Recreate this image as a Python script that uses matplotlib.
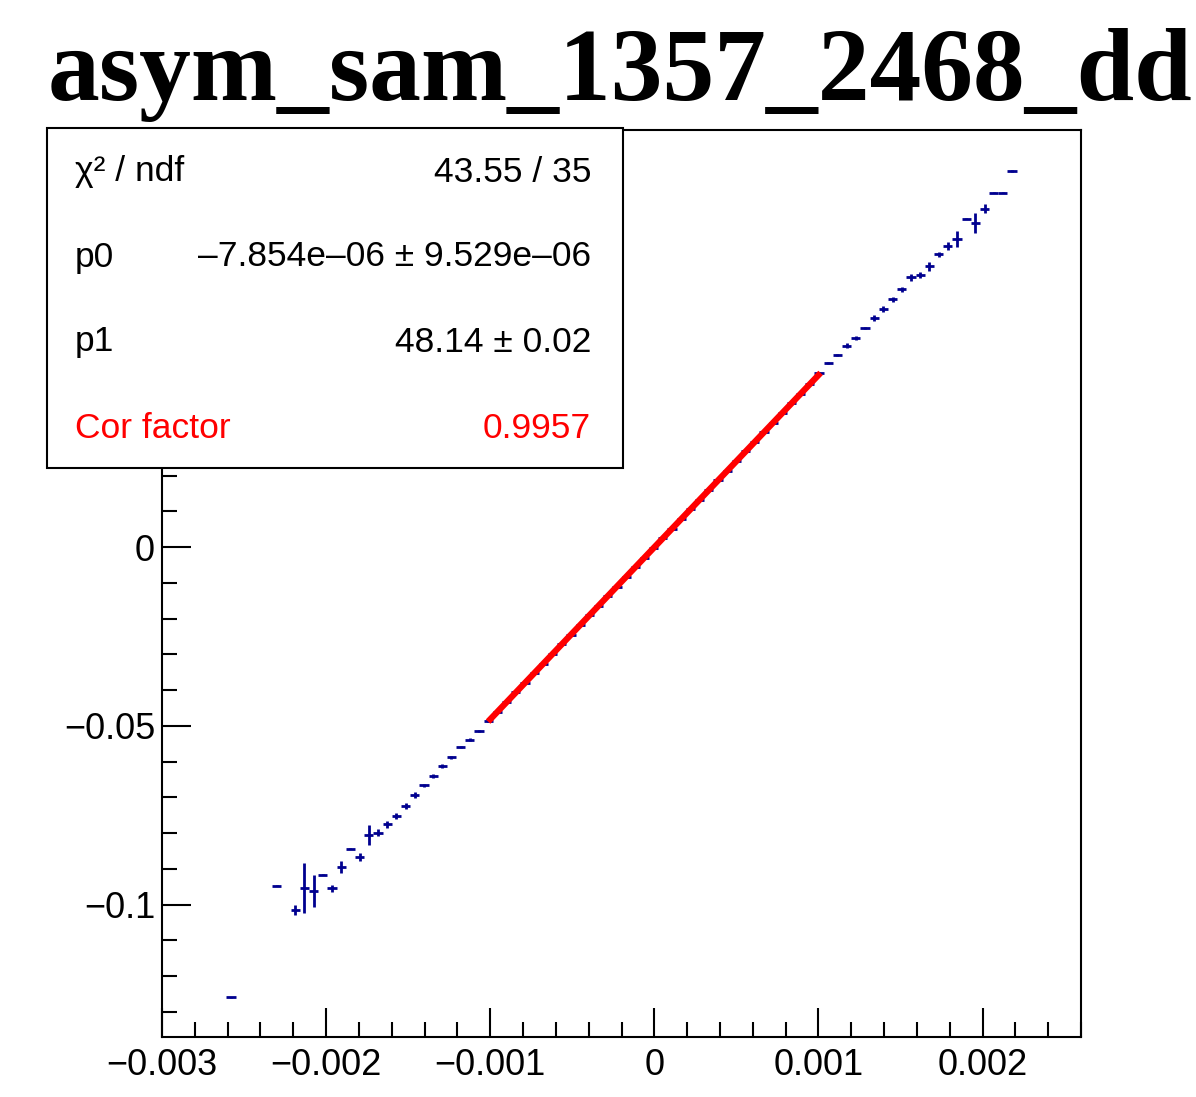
import numpy as np
import matplotlib
matplotlib.use('Agg')
import matplotlib.pyplot as plt
from matplotlib.patches import Rectangle
from matplotlib.ticker import MultipleLocator, FuncFormatter


# profile binning (100 bins over the axis range)
N_BINS = 100
X_LOW, X_HIGH = -0.003, 0.0026

# filled bins, mean values and errors
filled_bins = [7, 12, 14, 15, 16, 17, 18, 19, 20, 21,
               22, 23, 24, 25, 26, 27, 28, 29, 30, 31, 32, 33, 34,
               35, 36, 37, 38, 39, 40, 41, 42, 43, 44, 45, 46, 47, 48, 49, 50,
               51, 52, 53, 54, 55, 56, 57, 58, 59, 60, 61, 62, 63, 64, 65, 66,
               67, 68, 69, 70,
               71, 72, 73, 74, 75, 76, 77, 78, 79, 80, 81, 82, 83, 84, 85, 86,
               87, 88, 89, 90, 91, 92]

y_mean = [-0.1259, -0.0947, -0.1015, -0.0954, -0.0961, -0.0916, -0.0954, -0.0894, -0.0843, -0.0866,
          -0.0805, -0.0799, -0.0775, -0.0752, -0.0724, -0.0694, -0.0666, -0.0640, -0.0612, -0.0588,
          -0.0558, -0.0538, -0.0514,
          -0.0487, -0.0460, -0.0433, -0.0406, -0.0379, -0.0352, -0.0326, -0.0299, -0.0272, -0.0245,
          -0.0218, -0.0191, -0.0164, -0.0137, -0.0110, -0.0083, -0.0056, -0.0029, -0.0002, 0.0025,
          0.0052, 0.0079, 0.0106, 0.0133, 0.0160, 0.0187, 0.0214, 0.0241, 0.0268, 0.0295,
          0.0322, 0.0348, 0.0375, 0.0402, 0.0429, 0.0456,
          0.0486, 0.0515, 0.0537, 0.0564, 0.0586, 0.0612, 0.0642, 0.0666, 0.0693, 0.0721,
          0.0755, 0.0761, 0.0786, 0.0819, 0.0842, 0.0862, 0.0919, 0.0908, 0.0947, 0.0992,
          0.0992, 0.1052]

y_err = [0.0002, 0.0002, 0.0013, 0.0070, 0.0044, 0.0002, 0.0010, 0.0016, 0.0002, 0.0012,
         0.0027, 0.0010, 0.0010, 0.0008, 0.0008, 0.0008, 0.0005, 0.0005, 0.0005, 0.0004,
         0.0003, 0.0004, 0.0004,
         0.0002, 0.0002, 0.0002, 0.0002, 0.0002, 0.0002, 0.0002, 0.0002, 0.0002, 0.0002,
         0.0002, 0.0002, 0.0002, 0.0002, 0.0002, 0.0002, 0.0002, 0.0002, 0.0002, 0.0002,
         0.0002, 0.0002, 0.0002, 0.0002, 0.0002, 0.0002, 0.0002, 0.0002, 0.0002, 0.0002,
         0.0002, 0.0002, 0.0002, 0.0002, 0.0002, 0.0002,
         0.0003, 0.0003, 0.0003, 0.0006, 0.0006, 0.0003, 0.0008, 0.0008, 0.0008, 0.0008,
         0.0010, 0.0008, 0.0012, 0.0008, 0.0012, 0.0022, 0.0002, 0.0028, 0.0012, 0.0002,
         0.0002, 0.0002]

# fit results (pol1 over [-0.001, 0.001])
p0, p0_err = -7.854e-06, 9.529e-06
p1, p1_err = 48.14, 0.02
chi2, ndf = 43.55, 35
cor_factor = 0.9957
fit_range = (-0.001, 0.001)

title = 'asym_sam_1357_2468_dd'

DATA_COLOR = '#00008f'
SANS = 'Liberation Sans'

edges = np.linspace(X_LOW, X_HIGH, N_BINS + 1)
centers = 0.5 * (edges[1:] + edges[:-1])
half_w = 0.5 * (edges[1] - edges[0])
x = centers[filled_bins]

fig = plt.figure(figsize=(11.96, 10.97), dpi=100)
ax = fig.add_axes([162 / 1196, 60 / 1097, 919 / 1196, 907 / 1097])

ax.errorbar(x, y_mean, xerr=half_w, yerr=y_err, fmt='none',
            ecolor=DATA_COLOR, elinewidth=2.0, capsize=0, zorder=2)

xf = np.linspace(fit_range[0], fit_range[1], 200)
ax.plot(xf, p0 + p1 * xf, color='red', lw=4.5, zorder=3)

ax.set_xlim(X_LOW, X_HIGH)
ax.set_ylim(-0.137, 0.1167)

def fmt(v, pos):
    if abs(v) < 1e-12:
        return '0'
    return ('%g' % v).replace('-', '\u2212')

def fmt_y(v, pos):
    # labels above 0 sit behind the stats box
    if v > 0.01:
        return ''
    return fmt(v, pos)

ax.xaxis.set_major_locator(MultipleLocator(0.001))
ax.xaxis.set_minor_locator(MultipleLocator(0.0002))
ax.yaxis.set_major_locator(MultipleLocator(0.05))
ax.yaxis.set_minor_locator(MultipleLocator(0.01))
ax.xaxis.set_major_formatter(FuncFormatter(fmt))
ax.yaxis.set_major_formatter(FuncFormatter(fmt_y))

ax.tick_params(which='both', direction='in', top=False, right=False, width=1.5)
ax.tick_params(which='major', length=21, labelsize=26)
ax.tick_params(axis='y', which='major', pad=5)
ax.tick_params(axis='x', which='major', pad=8)
ax.tick_params(which='minor', length=10.5)
for lab in ax.get_xticklabels() + ax.get_yticklabels():
    lab.set_family(SANS)
for sp in ax.spines.values():
    sp.set_linewidth(1.5)

# title
fig.text(48 / 1196, 1 - 100 / 1097, title, family='Liberation Serif',
         weight='bold', fontsize=74.5, ha='left', va='baseline')

# stats box
box = Rectangle((47 / 1196, 1 - 468 / 1097), 576 / 1196, 340 / 1097,
                transform=fig.transFigure, facecolor='white',
                edgecolor='black', lw=1.5, zorder=10)
fig.add_artist(box)

rows = [
    ('\u03c7\u00b2 / ndf', '%.2f / %d' % (chi2, ndf), 'black'),
    ('p0', ('%.3e \u00b1 %.3e' % (p0, p0_err)).replace('-', '\u2013'), 'black'),
    ('p1', '%.2f \u00b1 %.2f' % (p1, p1_err), 'black'),
    ('Cor factor', '%.4f' % cor_factor, 'red'),
]
row_y = [172, 257, 342, 428]
for (lbl, val, col), yp in zip(rows, row_y):
    fy = 1 - yp / 1097
    fig.text(75 / 1196, fy, lbl, family=SANS, fontsize=25.5, color=col,
             ha='left', va='center', zorder=11)
    fig.text(591 / 1196, fy, val, family=SANS, fontsize=25.5, color=col,
             ha='right', va='center', zorder=11)

fig.savefig('out.png', dpi=100)
